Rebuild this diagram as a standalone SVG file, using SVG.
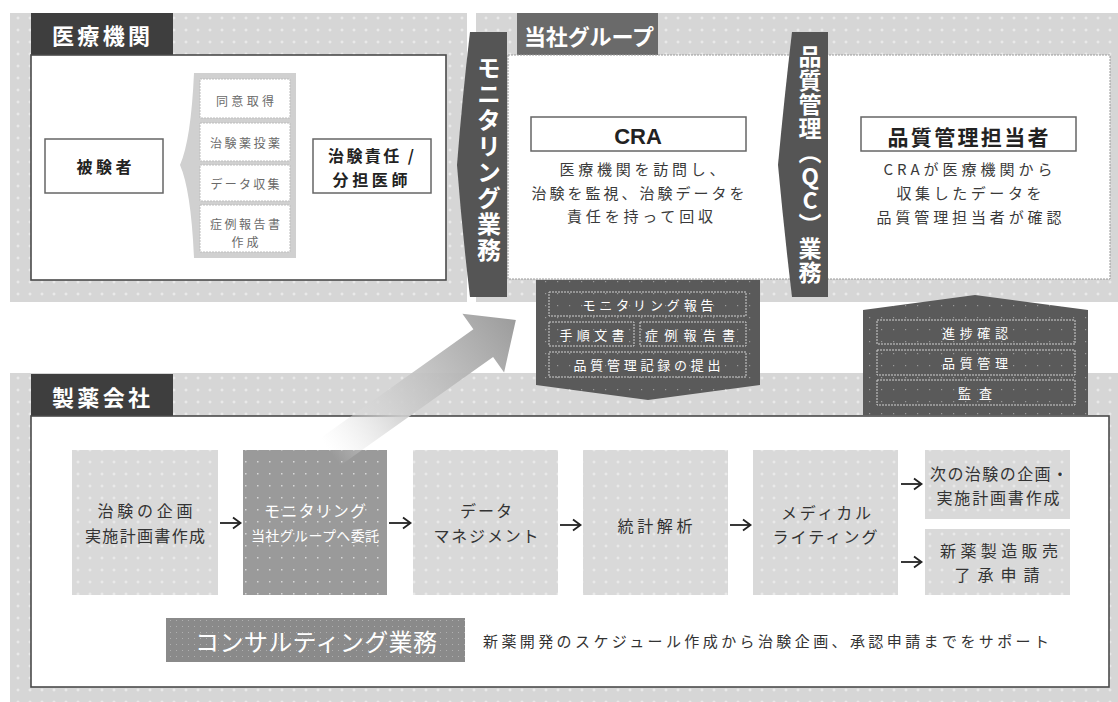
<svg xmlns="http://www.w3.org/2000/svg" width="1118" height="702" viewBox="0 0 1118 702">
<style>
text{font-family:"Noto Sans CJK JP","Noto Sans",sans-serif;}
.c{text-anchor:middle;dominant-baseline:central;}
.l{dominant-baseline:central;}
.tab{fill:#fff;font-weight:bold;font-size:22px;}
.wb{fill:#fff;stroke:#4a4a4a;stroke-width:1.6;}
.ib{fill:#fff;stroke:#666;stroke-width:1.5;}
.hd{fill:#222;font-weight:bold;}
.ds{fill:#3a3a3a;font-size:15px;}
.li{fill:#fff;stroke:#bdbdbd;stroke-width:1;stroke-dasharray:2 1;}
.lt{fill:#6a6a6a;font-size:12px;}
.dk{fill:url(#dkp);}
.di{fill:none;stroke:#d0d0d0;stroke-width:1;stroke-dasharray:2 1;}
.dt{fill:#fff;font-size:13px;}
.pb{fill:url(#lp);}
.pt{fill:#333;font-size:16px;}
.ban{fill:#fff;font-weight:bold;writing-mode:vertical-rl;text-orientation:upright;}
.arr{stroke:#222;stroke-width:1.8;fill:none;marker-end:url(#ah);}
</style>
<defs>
<pattern id="bgp" width="12" height="12" patternUnits="userSpaceOnUse">
<rect width="12" height="12" fill="#d6d6d6"/>
<path d="M6,4.5v3M4.5,6h3" stroke="#f0f0f0" stroke-width="1"/>
</pattern>
<pattern id="lp" width="12" height="12" patternUnits="userSpaceOnUse">
<rect width="12" height="12" fill="#d9d9d9"/>
<path d="M6,4.5v3M4.5,6h3" stroke="#efefef" stroke-width="1"/>
</pattern>
<pattern id="mp" width="12" height="12" patternUnits="userSpaceOnUse">
<rect width="12" height="12" fill="#9a9a9a"/>
<rect x="5" y="5" width="1.5" height="1.5" fill="#d8d8d8"/>
</pattern>
<pattern id="dkp" width="12" height="12" patternUnits="userSpaceOnUse">
<rect width="12" height="12" fill="#5a5a5a"/>
<rect x="5" y="5" width="1.2" height="1.2" fill="#9a9a9a"/>
</pattern>
<pattern id="cp" width="6" height="6" patternUnits="userSpaceOnUse">
<rect width="6" height="6" fill="#8a8a8a"/>
<rect x="2" y="2" width="1" height="1" fill="#b0b0b0"/>
</pattern>
<linearGradient id="ag" x1="0" y1="0" x2="1" y2="0">
<stop offset="0" stop-color="#e8e8e8" stop-opacity="0"/>
<stop offset="0.35" stop-color="#d0d0d0" stop-opacity="0.9"/>
<stop offset="1" stop-color="#9c9c9c"/>
</linearGradient>
<marker id="ah" markerWidth="12" markerHeight="14" refX="9" refY="7" orient="auto" markerUnits="userSpaceOnUse">
<path d="M2,1.5 L9.5,7 L2,12.5" fill="none" stroke="#222" stroke-width="1.8"/>
</marker>
</defs>

<!-- backgrounds -->
<rect x="10" y="13" width="457" height="289" fill="url(#bgp)"/>
<rect x="476" y="13" width="642" height="289" fill="url(#bgp)"/>
<rect x="10" y="373" width="1108" height="329" fill="url(#bgp)"/>

<!-- 医療機関 -->
<g id="iryo">
<rect x="31" y="13" width="142" height="42" fill="#3e3e3e"/>
<text class="tab l" x="52" y="34" textLength="98">医療機関</text>
<rect class="wb" x="31" y="55" width="415" height="225"/>
</g>
<g id="hikensha">
<rect class="ib" x="45" y="139" width="118" height="54"/>
<text class="c hd" x="104" y="166" font-size="16" textLength="55">被験者</text>
</g>
<g id="tasks">
<path d="M296,73 L194,73 Q191,140 180,165 Q191,190 194,258 L296,258 Z" fill="#d0d0d0"/>
<rect class="li" x="200" y="79" width="90" height="39"/>
<rect class="li" x="200" y="123" width="90" height="38"/>
<rect class="li" x="200" y="165" width="90" height="36"/>
<rect class="li" x="200" y="205" width="90" height="47"/>
<text class="c lt" x="245" y="100" textLength="58">同意取得</text>
<text class="c lt" x="245" y="142" textLength="70">治験薬投薬</text>
<text class="c lt" x="245" y="183" textLength="69">データ収集</text>
<text class="c lt" x="245" y="223" textLength="70">症例報告書</text>
<text class="c lt" x="245" y="241" textLength="27">作成</text>
</g>
<g id="ishi">
<rect class="ib" x="313" y="139" width="118" height="54"/>
<text class="c hd" x="371" y="155" font-size="16" textLength="86">治験責任 /</text>
<text class="c hd" x="370" y="179" font-size="16" textLength="75">分担医師</text>
</g>

<!-- 当社グループ -->
<g id="tosha">
<rect x="517" y="13" width="141" height="42" fill="#6a6a6a"/>
<text class="tab l" x="524" y="35" font-size="21" textLength="130">当社グループ</text>
<rect x="508" y="55" width="602" height="224" fill="#fff" stroke="#9a9a9a" stroke-width="1" stroke-dasharray="2 1"/>
</g>
<g id="cra">
<rect class="ib" x="531" y="117" width="215" height="34"/>
<text class="c hd" x="638" y="136" font-size="22" style="font-family:'Liberation Sans',Arial,sans-serif">CRA</text>
<text class="c ds" x="642" y="168" textLength="165">医療機関を訪問し、</text>
<text class="c ds" x="638" y="192" textLength="213">治験を監視、治験データを</text>
<text class="c ds" x="640" y="215" textLength="146">責任を持って回収</text>
</g>
<g id="qc-tanto">
<rect class="ib" x="861" y="117" width="215" height="34"/>
<text class="c hd" x="968" y="136" font-size="21" textLength="161">品質管理担当者</text>
<text class="c ds" x="968" y="168" textLength="169">CRAが医療機関から</text>
<text class="c ds" x="969" y="192" textLength="145">収集したデータを</text>
<text class="c ds" x="969" y="216" textLength="185">品質管理担当者が確認</text>
</g>
<g id="monitoring-banner">
<path d="M470,32 L507,32 L507,297 L470,297 Q462,230 457,165 Q462,100 470,32 Z" fill="#555"/>
<text class="ban" x="489" y="56" font-size="24" letter-spacing="2">モニタリング業務</text>
</g>
<g id="qc-banner">
<path d="M792,32 L828,32 L828,297 L792,297 Q784,230 778,165 Q784,100 792,32 Z" fill="#555"/>
<text class="ban" x="810" y="45" font-size="23" letter-spacing="1">品質管理（QC）業務</text>
</g>

<!-- 製薬会社 -->
<g id="seiyaku">
<rect x="31" y="374" width="142" height="42" fill="#3e3e3e"/>
<text class="tab l" x="52" y="396" textLength="98">製薬会社</text>
<rect class="wb" x="31" y="416" width="1078" height="271"/>
</g>

<!-- 提出書類 -->
<g id="docs">
<path class="dk" d="M536,280 L760,280 L760,385 L648,400 L536,385 Z"/>
<rect class="di" x="549" y="292" width="197" height="24"/>
<rect class="di" x="549" y="322" width="85" height="24"/>
<rect class="di" x="640" y="322" width="106" height="24"/>
<rect class="di" x="549" y="352" width="197" height="25"/>
<text class="c dt" x="648" y="304" textLength="131">モニタリング報告</text>
<text class="c dt" x="592" y="334" textLength="65">手順文書</text>
<text class="c dt" x="690" y="334" textLength="90">症例報告書</text>
<text class="c dt" x="647" y="364" textLength="147">品質管理記録の提出</text>
</g>
<g id="audit">
<path class="dk" d="M863,310 L975,295 L1088,310 L1088,415 L863,415 Z"/>
<rect class="di" x="877" y="320" width="198" height="24"/>
<rect class="di" x="877" y="350" width="198" height="25"/>
<rect class="di" x="877" y="380" width="198" height="25"/>
<text class="c dt" x="975" y="332" textLength="66">進捗確認</text>
<text class="c dt" x="975" y="362" textLength="66">品質管理</text>
<text class="c dt" x="975" y="392" textLength="34">監査</text>
</g>

<!-- process boxes -->
<g id="p1">
<rect class="pb" x="72" y="450" width="146" height="145"/>
<text class="c pt" x="145" y="510" textLength="95">治験の企画</text>
<text class="c pt" x="145" y="535" textLength="120">実施計画書作成</text>
</g>
<g id="p2">
<rect x="243" y="450" width="144" height="145" fill="url(#mp)"/>
<text class="c" x="315" y="510" font-size="16" fill="#fff" textLength="102">モニタリング</text>
<text class="c" x="315" y="535" font-size="14" fill="#fff" textLength="128">当社グループへ委託</text>
</g>
<g id="p3">
<rect class="pb" x="413" y="450" width="145" height="145"/>
<text class="c pt" x="486" y="510" textLength="52">データ</text>
<text class="c pt" x="486" y="535" textLength="105">マネジメント</text>
</g>
<g id="p4">
<rect class="pb" x="583" y="450" width="145" height="145"/>
<text class="c pt" x="655" y="525" textLength="75">統計解析</text>
</g>
<g id="p5">
<rect class="pb" x="753" y="450" width="145" height="145"/>
<text class="c pt" x="826" y="512" textLength="90">メディカル</text>
<text class="c pt" x="825" y="536" textLength="105">ライティング</text>
</g>
<g id="p6a">
<rect class="pb" x="925" y="450" width="145" height="69"/>
<text class="c pt" x="999" y="473" textLength="138">次の治験の企画・</text>
<text class="c pt" x="998" y="497" textLength="123">実施計画書作成</text>
</g>
<g id="p6b">
<rect class="pb" x="925" y="529" width="145" height="66"/>
<text class="c pt" x="999" y="550" textLength="118">新薬製造販売</text>
<text class="c pt" x="997" y="574" textLength="85">了承申請</text>
</g>
<g id="consulting">
<rect x="166" y="618" width="299" height="44" fill="url(#cp)"/>
<text class="c" x="316" y="640" font-size="24" fill="#fff" textLength="242">コンサルティング業務</text>
<text class="l" x="483" y="640" font-size="15" fill="#333" textLength="566">新薬開発のスケジュール作成から治験企画、承認申請までをサポート</text>
</g>

<!-- connectors -->
<g id="connectors">
<path d="M0,-17 L188,-17 L188,-36 L228,0 L188,36 L188,17 L0,17 Z" fill="url(#ag)" transform="translate(330,452) rotate(-35.4)"/>
<line class="arr" x1="220" y1="523" x2="240" y2="523"/>
<line class="arr" x1="389" y1="523" x2="410" y2="523"/>
<line class="arr" x1="560" y1="525" x2="580" y2="525"/>
<line class="arr" x1="730" y1="525" x2="750" y2="525"/>
<line class="arr" x1="901" y1="484" x2="921" y2="484"/>
<line class="arr" x1="901" y1="562" x2="921" y2="562"/>
</g>
</svg>
